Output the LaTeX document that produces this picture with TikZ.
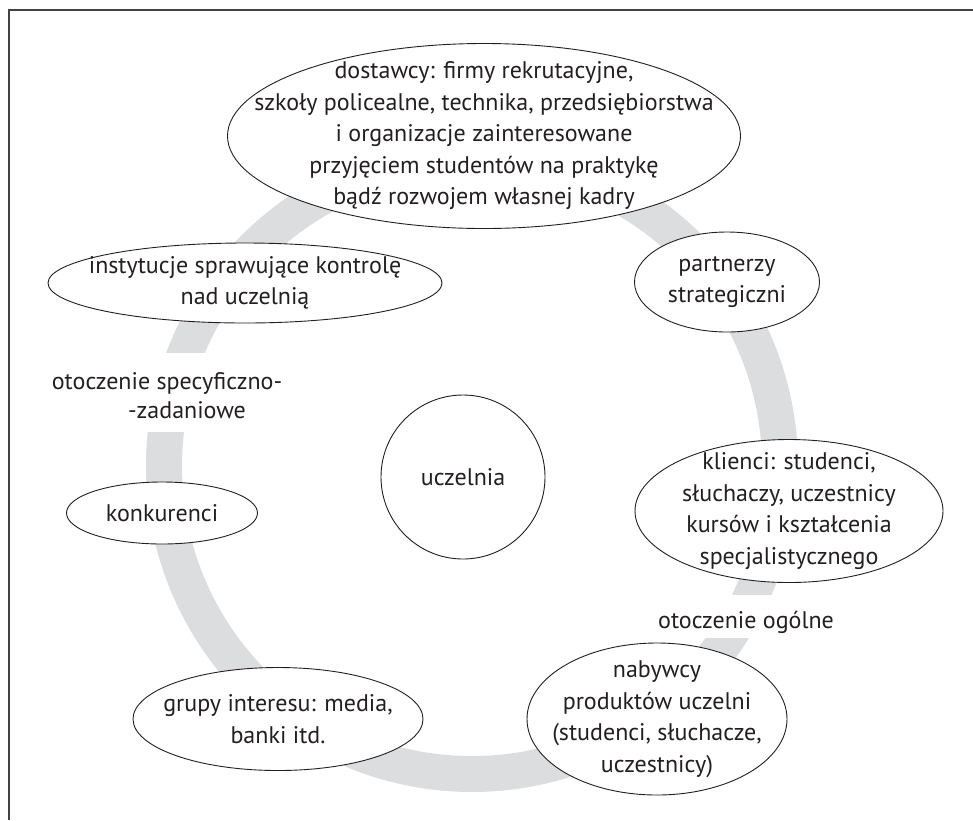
\documentclass[tikz,border=0pt]{standalone}
\usepackage{fontspec}
\setmainfont{PT Sans}
\usetikzlibrary{shapes.geometric}
\definecolor{ringgray}{HTML}{DCDDDF}
\definecolor{ink}{HTML}{231F20}
\begin{document}
\begin{tikzpicture}[x=1pt,y=-1pt,
  txt/.style={font=\fontsize{24}{31.5}\selectfont, text=ink, align=center, inner sep=0pt},
  oval/.style={txt, ellipse, draw=ink, line width=0.9pt, fill=white, inner xsep=-300pt, inner ysep=-150pt},
  ring/.style={draw=ringgray, line width=36pt},
  frame/.style={draw=ink!85, line width=1.4pt}]
\useasboundingbox (0,0) rectangle (973,820);
% frame
\coordinate (ftr) at (973,10);
\coordinate (ftl) at (9,10);
\coordinate (fbl) at (9,820);
\draw[frame] (ftr) -- (ftl) -- (fbl);
% ring
\draw[ring] (472,466) circle (308);
% gaps for labels
\fill[white] (130,353) rectangle (220,432);
\fill[white] (690,595) rectangle (800,638);
\node[txt] (spec1) at (167,383) {otoczenie specyficzno-};
\node[txt] (spec2) at (187,410) {-zadaniowe};
\node[txt] (ogol) at (746,622) {otoczenie ogólne};
% ellipses
\node[oval, minimum width=513pt, minimum height=185pt] (sup) at (484,136)
  {dostawcy: firmy rekrutacyjne,\\ szkoły policealne, technika, przedsiębiorstwa\\ i organizacje zainteresowane\\ przyjęciem studentów na praktykę\\ bądź rozwojem własnej kadry};
\node[oval, minimum width=394pt, minimum height=80pt] (inst) at (245,283)
  {instytucje sprawujące kontrolę\\ nad uczelnią};
\node[oval, minimum width=185pt, minimum height=100pt] (part) at (727,282)
  {partnerzy\\ strategiczni};
\node[txt, circle, draw=ink, line width=0.9pt, fill=white, minimum size=164pt] (ucz) at (463,477) {uczelnia};
\node[oval, minimum width=308pt, minimum height=143pt] (kli) at (789,511)
  {klienci: studenci,\\ słuchaczy, uczestnicy\\ kursów i kształcenia\\ specjalistycznego};
\node[oval, minimum width=191pt, minimum height=62pt] (kon) at (162,513) {konkurenci};
\node[oval, minimum width=290pt, minimum height=103pt] (grp) at (278,719)
  {grupy interesu: media,\\ banki itd.};
\node[oval, minimum width=260pt, minimum height=152pt] (nab) at (657,719)
  {nabywcy\\ produktów uczelni\\ (studenci, słuchacze,\\ uczestnicy)};
\end{tikzpicture}
\end{document}
